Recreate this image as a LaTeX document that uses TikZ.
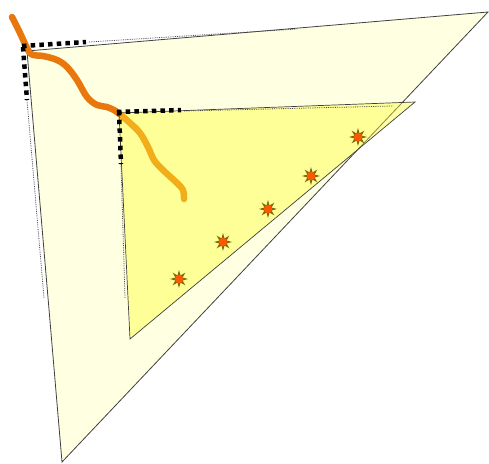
\documentclass[tikz,border=0pt]{standalone}
\usetikzlibrary{shapes.geometric}
\definecolor{paleyel}{RGB}{255,255,226}
\definecolor{sunyel}{RGB}{255,255,40}
\definecolor{rust}{RGB}{232,120,14}
\definecolor{spark}{RGB}{255,88,0}
\definecolor{bronze}{RGB}{125,105,10}

\begin{document}
\begin{tikzpicture}[x=1pt,y=-1pt,
  outer/.style={draw=black!75,line width=0.8pt,fill=paleyel},
  inner/.style={draw=black!75,line width=0.7pt,fill=sunyel,fill opacity=0.4},
  trail/.style={rust,line width=6.5pt,line cap=round,line join=round},
  thickdash/.style={black,line width=4.5pt,dash pattern=on 4.5pt off 4.2pt},
  thindot/.style={black!70,line width=0.8pt,densely dotted},
  burst/.style={star,star points=8,star point ratio=2.3,minimum size=18pt,inner sep=0pt,fill=bronze},
  core/.style={circle,minimum size=8.5pt,inner sep=0pt,fill=spark}
]
\useasboundingbox (0,0) rectangle (489,463);

\coordinate (oa) at (27,51);
\coordinate (ob) at (488,12);
\coordinate (oc) at (62,462);
\coordinate (ia) at (119,113);
\coordinate (ib) at (415,102);
\coordinate (ic) at (130,339);

\draw[outer] (oa) -- (ob) -- (oc) -- cycle;

\draw[trail] plot[smooth,tension=0.6] coordinates {(12,17) (20,33) (28,50) (33,55) (43,56) (57,60) (67,67) (77,80) (87,97) (97,105) (107,107) (117,112) (130,123) (140,133) (148,147) (154,160) (163,170) (177,183) (183,190) (184,199)};

\draw[inner] (ia) -- (ib) -- (ic) -- cycle;

% corner marks
\coordinate (ot1) at (86,42);
\coordinate (ot2) at (297,29);
\coordinate (ol1) at (27,100);
\coordinate (ol2) at (44,298);
\draw[thickdash] (22,46) -- (ot1);
\draw[thickdash] (23,47) -- (ol1);
\draw[thindot] (89,42) -- (ot2);
\draw[thindot] (ol1) -- (ol2);

\coordinate (it1) at (181,110);
\coordinate (it2) at (393,106);
\coordinate (il1) at (121,164);
\coordinate (il2) at (125,298);
\draw[thickdash] (117,112) -- (it1);
\draw[thickdash] (119,111) -- (il1);
\draw[thindot] (184,111) -- (it2);
\draw[thindot] (il1) -- (il2);

\foreach \p [count=\i] in {(358,137),(311,176),(268,209),(223,242),(179,279)}{
  \node[burst] (b\i) at \p {};
  \node[core] (c\i) at (b\i) {};
}
\end{tikzpicture}
\end{document}
